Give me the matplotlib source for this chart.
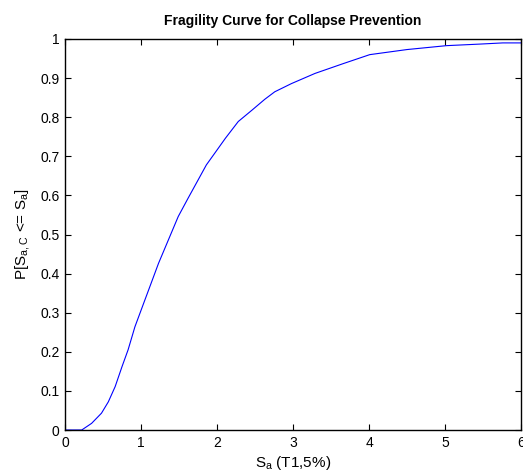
import matplotlib
matplotlib.use("Agg")
import matplotlib.pyplot as plt

# spectral acceleration Sa (g) and probability of collapse
sa = [0.0, 0.22, 0.35, 0.48, 0.57, 0.66, 0.75, 0.83, 0.92, 1.05, 1.10, 1.23,
      1.36, 1.49, 1.62, 1.75, 1.86, 2.00, 2.11, 2.28, 2.46, 2.63, 2.76, 2.98,
      3.29, 3.66, 4.01, 4.50, 5.02, 5.46, 5.76, 6.00]
p_collapse = [0.0, 0.0, 0.017, 0.043, 0.072, 0.111, 0.162, 0.205, 0.264,
              0.332, 0.358, 0.426, 0.486, 0.546, 0.593, 0.639, 0.678, 0.716,
              0.746, 0.789, 0.818, 0.846, 0.865, 0.886, 0.912, 0.937, 0.960,
              0.973, 0.983, 0.987, 0.990, 0.990]

x_ticks = [0, 1, 2, 3, 4, 5, 6]
y_ticks = [0, 0.1, 0.2, 0.3, 0.4, 0.5, 0.6, 0.7, 0.8, 0.9, 1]
y_ticklabels = ["0", "0.1", "0.2", "0.3", "0.4", "0.5", "0.6", "0.7", "0.8", "0.9", "1"]

plt.rcParams["font.family"] = ["Liberation Sans", "DejaVu Sans"]
plt.rcParams["mathtext.default"] = "regular"

fig = plt.figure(figsize=(5.23, 4.76), dpi=100)
ax = fig.add_axes([65 / 523, 46 / 476, 456 / 523, 391 / 476])

ax.plot(sa, p_collapse, color="#0000ff", linewidth=0.8)

ax.set_xlim(0, 6)
ax.set_ylim(0, 1)
ax.set_xticks(x_ticks)
ax.set_xticklabels([str(t) for t in x_ticks])
ax.set_yticks(y_ticks)
ax.set_yticklabels(y_ticklabels)
ax.tick_params(direction="in", length=4, width=0.8, labelsize=10,
               top=True, right=True, pad=4)
for s in ax.spines.values():
    s.set_linewidth(1.0)

ax.set_title("Fragility Curve for Collapse Prevention", fontsize=10,
             fontweight="bold", pad=10)
ax.set_xlabel("S$_{a}$ (T1,5%)", fontsize=11, labelpad=3)
ax.set_ylabel("P[S$_{a,C}$ <= S$_{a}$]", fontsize=11, labelpad=6)

fig.savefig("out.png", dpi=100)
